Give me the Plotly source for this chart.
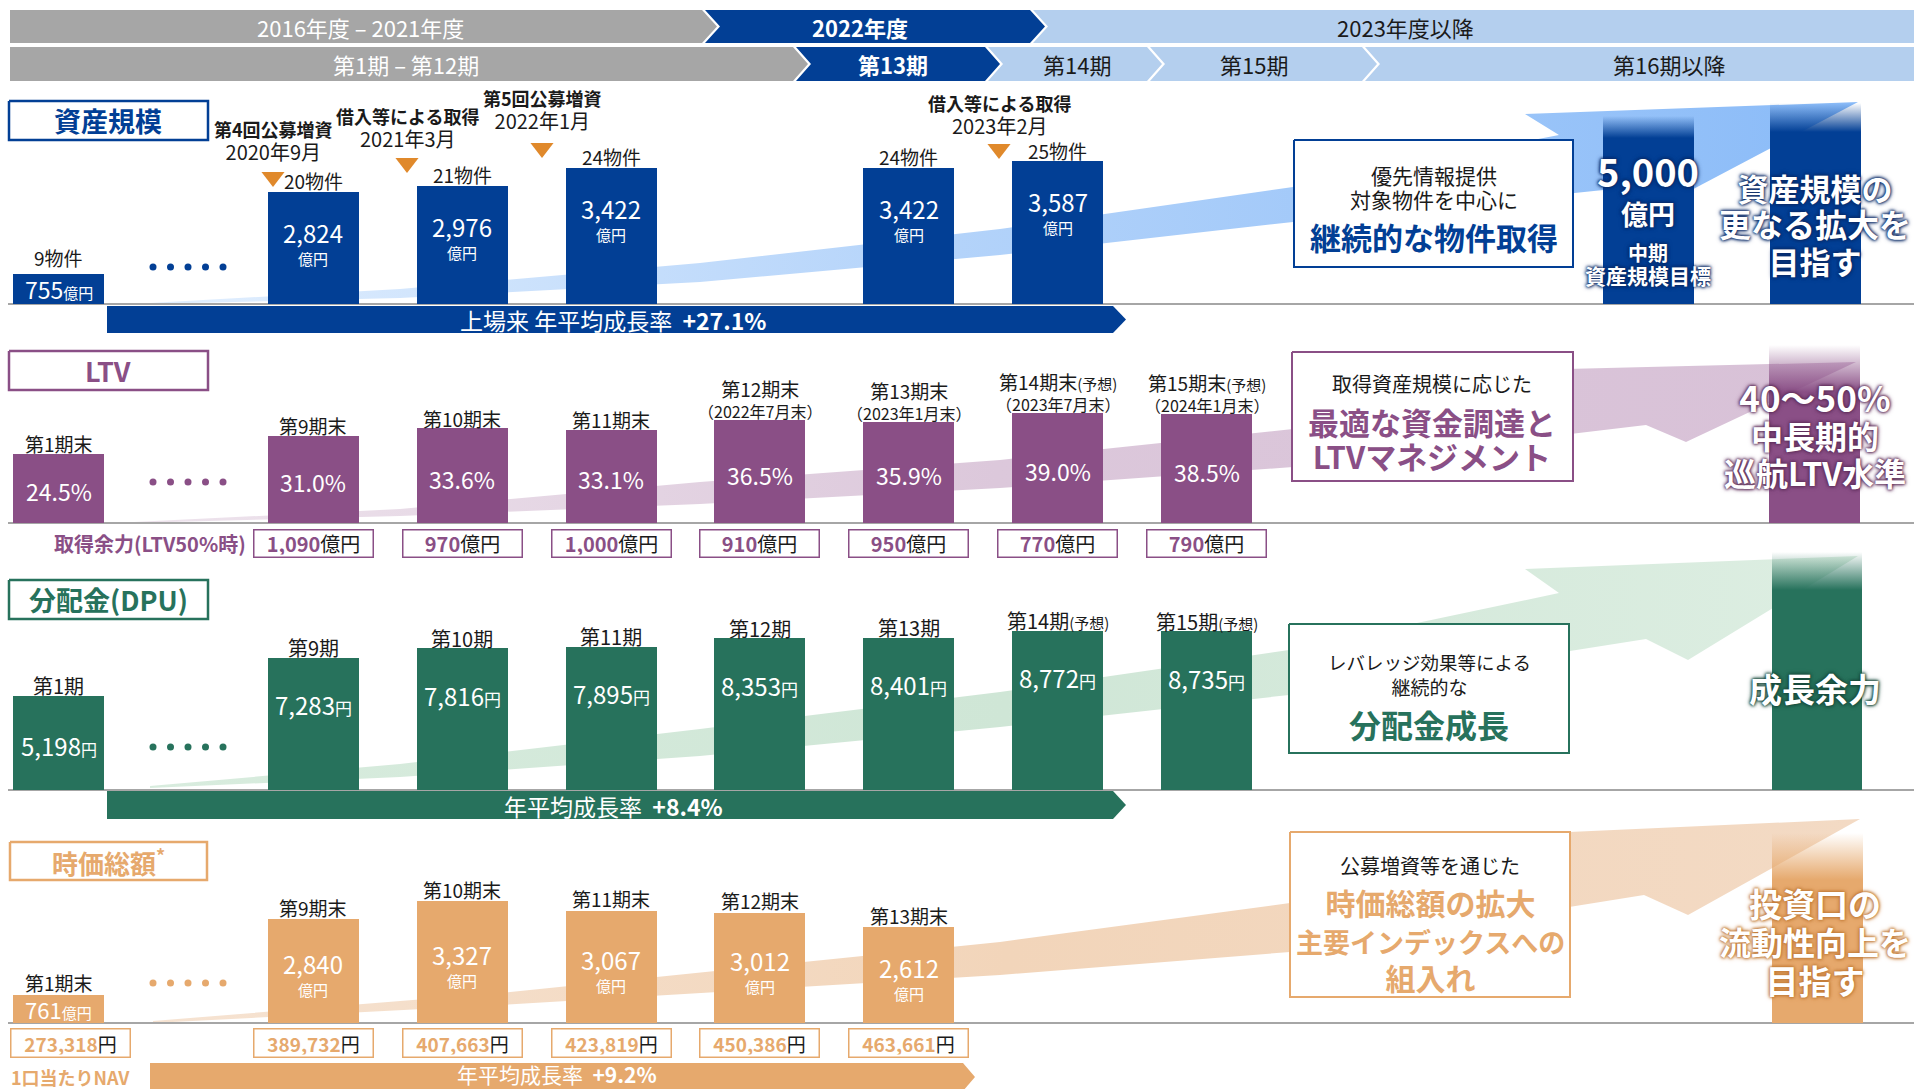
import plotly.graph_objects as go

W, H = 1914, 1089
FONT = "Noto Sans CJK JP"

NAVY = "#023F95"
PURPLE = "#8A4F86"
GREEN = "#27725C"
ORANGE = "#E6A96D"
GREY = "#A6A6A6"
LIGHTBLUE = "#B4CFEE"
TRI = "#E0892B"
INK = "#1A1A1A"

# ------------------------------------------------------------------ data
header_years = ["2016年度 – 2021年度", "2022年度", "2023年度以降"]
header_periods = ["第1期 – 第12期", "第13期", "第14期", "第15期", "第16期以降"]

first_period = "第1期"
periods = ["第9期", "第10期", "第11期", "第12期", "第13期", "第14期", "第15期"]

asset_first_value = 755
asset_first_count = "9物件"
asset_values = [2824, 2976, 3422, None, 3422, 3587, None]
asset_counts = ["20物件", "21物件", "24物件", None, "24物件", "25物件", None]
asset_events = ["第4回公募増資", "借入等による取得", "第5回公募増資", "借入等による取得"]
asset_event_dates = ["2020年9月", "2021年3月", "2022年1月", "2023年2月"]
asset_target = 5000
asset_cagr = "+27.1%"

ltv_first_value = 24.5
ltv_values = [31.0, 33.6, 33.1, 36.5, 35.9, 39.0, 38.5]
ltv_first_label = "第1期末"
ltv_labels = ["第9期末", "第10期末", "第11期末", "第12期末", "第13期末", "第14期末", "第15期末"]
ltv_label_notes = ["", "", "", "", "", "(予想)", "(予想)"]
ltv_dates = [None, None, None, "（2022年7月末）", "（2023年1月末）", "（2023年7月末）", "（2024年1月末）"]
ltv_capacity = [1090, 970, 1000, 910, 950, 770, 790]

dpu_first_value = 5198
dpu_values = [7283, 7816, 7895, 8353, 8401, 8772, 8735]
dpu_first_label = "第1期"
dpu_labels = ["第9期", "第10期", "第11期", "第12期", "第13期", "第14期", "第15期"]
dpu_label_notes = ["", "", "", "", "", "(予想)", "(予想)"]
dpu_cagr = "+8.4%"

mcap_first_value = 761
mcap_values = [2840, 3327, 3067, 3012, 2612, None, None]
mcap_first_label = "第1期末"
mcap_labels = ["第9期末", "第10期末", "第11期末", "第12期末", "第13期末", None, None]
nav_first_value = 273318
nav_values = [389732, 407663, 423819, 450386, 463661, None, None]
nav_cagr = "+9.2%"

# ------------------------------------------------------------------ helpers
fig = go.Figure()


def Y(y):
    return H - y


def sp(s, size):
    return f"<span style='font-size:{size}px'>{s}</span>"


def poly(points, color, line=None, lw=0, grad=None):
    xs = [p[0] for p in points] + [points[0][0]]
    ys = [Y(p[1]) for p in points] + [Y(points[0][1])]
    kw = {}
    if grad is not None:
        kw["fillgradient"] = grad
    fig.add_trace(go.Scatter(
        x=xs, y=ys, mode="lines", fill="toself", fillcolor=color,
        line=dict(color=line if line else "rgba(0,0,0,0)", width=lw),
        hoverinfo="skip", showlegend=False, xaxis="x", yaxis="y", **kw))


def rect(x0, y0, x1, y1, color, line=None, lw=0, grad=None):
    poly([(x0, y0), (x1, y0), (x1, y1), (x0, y1)], color, line, lw, grad)


def chevron(x0, x1, y0, y1, color, notch=True, point=True, d=15):
    ym = (y0 + y1) / 2
    pts = [(x0, y0), (x1, y0)]
    if point:
        pts.append((x1 + d, ym))
    pts += [(x1, y1), (x0, y1)]
    if notch:
        pts.append((x0 + d, ym))
    poly(pts, color)


def text(x, y, s, size, color=INK, bold=False, xanchor="center", shadow=None, **kw):
    font = dict(family=FONT, size=size, color=color, weight="bold" if bold else "normal")
    if shadow:
        font["shadow"] = shadow
    fig.add_annotation(x=x, y=Y(y), xref="x", yref="y", text=s, showarrow=False,
                       font=font, xanchor=xanchor, yanchor="middle", **kw)


def dtext(xref, yref, x, y, s, size, color=INK, bold=False, yshift=0, xshift=0,
          yanchor="middle", **kw):
    fig.add_annotation(x=x, y=y, xref=xref, yref=yref, text=s, showarrow=False,
                       font=dict(family=FONT, size=size, color=color,
                                 weight="bold" if bold else "normal"),
                       xanchor="center", yanchor=yanchor, yshift=yshift, xshift=xshift, **kw)


def vfade(x0, ytop, ysolid, x1, ybase, rgb):
    rect(x0, ytop, x1, ybase, f"rgb{rgb}",
         grad=dict(type="vertical", start=Y(ysolid), stop=Y(ytop),
                   colorscale=[[0, f"rgba({rgb[0]},{rgb[1]},{rgb[2]},1)"],
                               [1, f"rgba({rgb[0]},{rgb[1]},{rgb[2]},0)"]]))


# ------------------------------------------------------------------ header
chevron(10, 702, 10, 43, GREY, notch=False)
chevron(705, 1030, 10, 43, NAVY)
chevron(1033, W + 40, 10, 43, LIGHTBLUE, point=False)
chevron(10, 793, 47, 81, GREY, notch=False)
chevron(796, 985, 47, 81, NAVY)
chevron(988, 1147, 47, 81, LIGHTBLUE)
chevron(1150, 1362, 47, 81, LIGHTBLUE)
chevron(1365, W + 40, 47, 81, LIGHTBLUE, point=False)

HF = 22
text(360, 27, header_years[0], HF, "white")
text(860, 27, header_years[1], HF, "white", bold=True)
text(1405, 27, header_years[2], HF, INK)
text(406, 64, header_periods[0], HF, "white")
text(893, 64, header_periods[1], HF, "white", bold=True)
text(1077, 64, header_periods[2], HF, INK)
text(1254, 64, header_periods[3], HF, INK)
text(1669, 64, header_periods[4], HF, INK)

# ------------------------------------------------------------------ background arrows
def arrow(upper, barb, tip, lbarb, lnotch, lower, grad):
    poly(upper + [barb, tip, lbarb, lnotch] + lower, "#ffffff",
         grad=dict(type="horizontal", colorscale=grad))


arrow([(150, 303), (400, 289), (700, 263), (1000, 229), (1293, 187), (1559, 135)],
      (1525, 114), (1858, 102), (1682, 195), (1642, 186),
      [(1293, 222), (1000, 255), (700, 282), (400, 298), (150, 304)],
      [[0, "#E2EFFE"], [0.45, "#B5D4FA"], [1, "#8ABBF8"]])
arrow([(134, 522), (400, 509), (700, 482), (1000, 460), (1293, 429), (1559, 392)],
      (1525, 370), (1856, 362), (1686, 442), (1646, 425),
      [(1293, 467), (1000, 488), (700, 504), (400, 516), (134, 523)],
      [[0, "#EEE4ED"], [0.5, "#DCC8DB"], [1, "#D8C1D7"]])
arrow([(150, 786), (400, 764), (700, 729), (1000, 692), (1289, 650), (1559, 593)],
      (1525, 569), (1858, 556), (1688, 660), (1646, 639),
      [(1289, 695), (1000, 727), (700, 756), (400, 777), (150, 788)],
      [[0, "#D8ECDE"], [0.5, "#CFE6D6"], [1, "#DDEEE2"]])
arrow([(153, 1021), (500, 993), (1000, 942), (1290, 903), (1559, 855)],
      (1525, 834), (1860, 819), (1688, 915), (1644, 895),
      [(1290, 952), (1000, 975), (500, 1005), (153, 1023)],
      [[0, "#F6E3D2"], [0.5, "#F2D5BA"], [1, "#F3DAC4"]])

# baselines
for yb in (304, 523, 790, 1023):
    fig.add_trace(go.Scatter(x=[8, W], y=[Y(yb), Y(yb)], mode="lines",
                             line=dict(color=GREY, width=2), hoverinfo="skip",
                             showlegend=False, xaxis="x", yaxis="y"))

# right-hand target bars (faded tops)
vfade(1603, 116, 138, 1694, 304, (2, 63, 149))
vfade(1770, 103, 132, 1861, 304, (2, 63, 149))
vfade(1769, 345, 392, 1860, 523, (138, 79, 134))
vfade(1772, 552, 590, 1862, 790, (39, 114, 92))
vfade(1772, 833, 880, 1863, 1023, (230, 169, 109))

# growth-rate bands
chevron(107, 1113, 306, 333, NAVY, notch=False, d=13)
chevron(107, 1113, 791, 819, GREEN, notch=False, d=13)
chevron(150, 963, 1063, 1091, ORANGE, notch=False, d=12)
text(613, 320, f"上場来 年平均成長率  <b>{asset_cagr}</b>", 23, "white")
text(613, 806, f"年平均成長率  <b>{dpu_cagr}</b>", 23, "white")
text(557, 1074, f"年平均成長率  <b>{nav_cagr}</b>", 21, "white")

# title boxes
rect(9, 101, 208, 140, "white", NAVY, 2.5)
rect(9, 351, 208, 390, "white", PURPLE, 2.5)
rect(9, 580, 208, 619, "white", GREEN, 2.5)
rect(10, 842, 207, 880, "white", ORANGE, 2.5)
text(108, 120, "資産規模", 27, NAVY, bold=True)
text(108, 370, "LTV", 27, PURPLE, bold=True)
text(108, 599, "分配金(DPU)", 27, GREEN, bold=True)
text(108, 861, "時価総額<sup>*</sup>", 26, ORANGE, bold=True)

# explanation boxes
rect(1294, 140, 1573, 267, "white", NAVY, 2)
text(1434, 187, sp("優先情報提供", 21) + "<br>" + sp("対象物件を中心に", 21), 18.5)
text(1434, 236, "継続的な物件取得", 31, NAVY, bold=True)

rect(1292, 352, 1573, 481, "white", PURPLE, 2)
text(1432, 383, "取得資産規模に応じた", 20)
text(1432, 438, sp("最適な資金調達と", 31) + "<br>" + sp("LTVマネジメント", 31), 26,
     PURPLE, bold=True)

rect(1289, 624, 1569, 753, "white", GREEN, 2)
text(1429, 674, sp("レバレッジ効果等による", 18.5) + "<br>" + sp("継続的な", 19), 19)
text(1429, 724, "分配金成長", 32, GREEN, bold=True)

rect(1290, 832, 1570, 997, "white", ORANGE, 2)
text(1430, 865, "公募増資等を通じた", 20)
text(1430, 939, sp("時価総額の拡大", 30) + "<br>" + sp("主要インデックスへの", 27) + "<br>"
     + sp("組入れ", 30), 29, ORANGE, bold=True)

# big right-hand texts
SH_N = "0 0 3px #0A2A66, 0 0 3px #0A2A66, 0 0 5px #0A2A66"
SH_P = "0 0 3px #5E2E5A, 0 0 3px #5E2E5A, 0 0 5px #5E2E5A"
SH_G = "0 0 3px #17483A, 0 0 3px #17483A, 0 0 5px #17483A"
SH_O = "0 0 3px #C27A36, 0 0 3px #C27A36, 0 0 5px #C27A36"
text(1648, 188, sp(f"{asset_target:,}", 38) + "<br>" + sp("億円", 27), 29, "white",
     bold=True, shadow=SH_N)
text(1648, 264, sp("中期", 20) + "<br>" + sp("資産規模目標", 21), 18, "white",
     bold=True, shadow=SH_N)
text(1815, 224, sp("資産規模の", 31) + "<br>" + sp("更なる拡大を", 32) + "<br>"
     + sp("目指す", 31), 28, "white", bold=True, shadow=SH_N)
text(1815, 433, sp("40～50%", 35) + "<br>" + sp("中長期的", 32) + "<br>"
     + sp("巡航LTV水準", 32), 28.5, "white", bold=True, shadow=SH_P)
text(1815, 688, "成長余力", 33, "white", bold=True, shadow=SH_G)
text(1815, 941, sp("投資口の", 33) + "<br>" + sp("流動性向上を", 32) + "<br>"
     + sp("目指す", 33), 29.5, "white", bold=True, shadow=SH_O)

# event markers (asset row)
ev_x = [273, 407, 542, 999]
ev_title_y = [128, 117, 98, 104]
ev_date_y = [153, 139, 122, 125]
ev_tri_y = [177, 163, 148, 149]
for i in range(4):
    text(ev_x[i], (ev_title_y[i] + ev_date_y[i]) / 2,
         f"<b>{asset_events[i]}</b><br>" + sp(asset_event_dates[i], 20), 18, INK)
fig.add_trace(go.Scatter(x=ev_x, y=[Y(v) for v in ev_tri_y], mode="markers",
                         marker=dict(symbol="triangle-down", size=20, color=TRI),
                         hoverinfo="skip", showlegend=False, xaxis="x", yaxis="y"))

# ellipsis dots
for yd, col in ((267, NAVY), (482, PURPLE), (747, GREEN), (983, ORANGE)):
    fig.add_trace(go.Scatter(x=[153, 170.5, 188, 205.5, 223], y=[Y(yd)] * 5, mode="markers",
                             marker=dict(size=7, color=col), hoverinfo="skip",
                             showlegend=False, xaxis="x", yaxis="y"))

text(248, 543, "取得余力(LTV50%時)", 20, PURPLE, bold=True, xanchor="right")
text(70, 1077, "1口当たりNAV", 18, ORANGE, bold=True, height=22)

# ------------------------------------------------------------------ bars
ROWS = [(304, 80, 0.0398), (523, 330, 2.82), (790, 560, 0.01815), (1023, 830, 0.0366)]
FIRST_W = 91 / 117
MAIN_W = 0.611


def add_bars(r, first_val, vals, color):
    fig.add_trace(go.Bar(x=[first_period], y=[first_val], xaxis=f"x{2*r+2}", yaxis=f"y{r+2}",
                         marker=dict(color=color, line=dict(width=0)), width=FIRST_W,
                         hoverinfo="skip", showlegend=False))
    fig.add_trace(go.Bar(x=periods, y=vals, xaxis=f"x{2*r+3}", yaxis=f"y{r+2}",
                         marker=dict(color=color, line=dict(width=0)), width=MAIN_W,
                         hoverinfo="skip", showlegend=False))


add_bars(0, asset_first_value, asset_values, NAVY)
add_bars(1, ltv_first_value, ltv_values, PURPLE)
add_bars(2, dpu_first_value, dpu_values, GREEN)
add_bars(3, mcap_first_value, mcap_values, ORANGE)

# asset row labels
dtext("x2", "y2", first_period, asset_first_value, asset_first_count, 19, yshift=16)
dtext("x2", "y2", first_period, asset_first_value / 2,
      f"{asset_first_value:,}" + sp("億円", 15), 23, "white")
for i, v in enumerate(asset_values):
    if v is None:
        continue
    dtext("x3", "y2", periods[i], v, asset_counts[i], 19, yshift=11)
    dtext("x3", "y2", periods[i], v, sp(f"{v:,}", 24) + "<br>" + sp("億円", 15), 17,
          "white", yshift=-50)

# LTV row labels
dtext("x4", "y3", first_period, ltv_first_value, ltv_first_label, 19, yshift=10)
dtext("x4", "y3", first_period, ltv_first_value / 2, f"{ltv_first_value:.1f}%", 23, "white", yshift=-3)
for i, v in enumerate(ltv_values):
    note = ltv_label_notes[i]
    lab = ltv_labels[i] + (sp(note, 15) if note else "")
    if ltv_dates[i]:
        dtext("x5", "y3", periods[i], v, sp(lab, 19) + "<br>" + sp(ltv_dates[i], 16), 16,
              yshift=21)
    else:
        dtext("x5", "y3", periods[i], v, lab, 19, yshift=10)
    dtext("x5", "y3", periods[i], v / 2, f"{v:.1f}%", 23, "white", yshift=-3)
    dtext("x5", "y3", periods[i], 0,
          f"<span style='color:{PURPLE}'><b>{ltv_capacity[i]:,}</b></span>億円", 20,
          yshift=-6, yanchor="top", width=114, height=22, bordercolor=PURPLE,
          borderwidth=1.5, borderpad=2, bgcolor="white")

# DPU row labels
dtext("x6", "y4", first_period, dpu_first_value, dpu_first_label, 20, yshift=10)
dtext("x6", "y4", first_period, dpu_first_value,
      f"{dpu_first_value:,}" + sp("円", 16), 24, "white", yshift=-50)
for i, v in enumerate(dpu_values):
    note = dpu_label_notes[i]
    lab = dpu_labels[i] + (sp(note, 15) if note else "")
    dtext("x7", "y4", periods[i], v, lab, 20, yshift=10)
    dtext("x7", "y4", periods[i], v, f"{v:,}" + sp("円", 17), 24, "white", yshift=-47)

# market cap row labels
dtext("x8", "y5", first_period, mcap_first_value, mcap_first_label, 19, yshift=13)
dtext("x8", "y5", first_period, mcap_first_value / 2,
      f"{mcap_first_value:,}" + sp("億円", 15), 22, "white")
dtext("x8", "y5", first_period, 0,
      f"<span style='color:{ORANGE}'><b>{nav_first_value:,}</b></span>円", 19,
      yshift=-5, xshift=12, yanchor="top", width=114, height=23, bordercolor=ORANGE,
      borderwidth=1.5, borderpad=2, bgcolor="white")
for i, v in enumerate(mcap_values):
    if v is None:
        continue
    dtext("x9", "y5", periods[i], v, mcap_labels[i], 19, yshift=12)
    dtext("x9", "y5", periods[i], v / 2, sp(f"{v:,}", 24) + "<br>" + sp("億円", 15), 17,
          "white", yshift=-2)
    dtext("x9", "y5", periods[i], 0,
          f"<span style='color:{ORANGE}'><b>{nav_values[i]:,}</b></span>円", 19,
          yshift=-5, yanchor="top", width=114, height=23, bordercolor=ORANGE,
          borderwidth=1.5, borderpad=2, bgcolor="white")

# ------------------------------------------------------------------ layout
ax = dict(showgrid=False, zeroline=False, showticklabels=False, showline=False,
          ticks="", fixedrange=True, visible=False)
layout = dict(width=W, height=H, margin=dict(l=0, r=0, t=0, b=0),
              paper_bgcolor="white", plot_bgcolor="rgba(0,0,0,0)",
              showlegend=False, hovermode=False, font=dict(family=FONT, color=INK))
layout["xaxis"] = dict(domain=[0, 1], range=[0, W], anchor="y", **ax)
layout["yaxis"] = dict(domain=[0, 1], range=[0, H], anchor="x", **ax)
main_dom = [238.8 / W, 1281.0 / W]
first_dom = [0, 117.0 / W]
for r, (base, top, ppu) in enumerate(ROWS):
    layout[f"yaxis{r+2}"] = dict(domain=[(H - base) / H, (H - top) / H],
                                 range=[0, (base - top) / ppu], anchor=f"x{2*r+3}", **ax)
    layout[f"xaxis{2*r+2}"] = dict(domain=first_dom, range=[-0.5, 0.5], type="category",
                                   anchor=f"y{r+2}", **ax)
    layout[f"xaxis{2*r+3}"] = dict(domain=main_dom, range=[-0.5, 6.5], type="category",
                                   categoryorder="array", categoryarray=periods,
                                   anchor=f"y{r+2}", **ax)
fig.update_layout(**layout)
fig.update_layout(bargap=0)

fig.write_html(
    "out.html",
    config={"displayModeBar": False, "staticPlot": True},
    post_script="document.body.style.margin='0px';document.body.style.overflow='hidden';",
)
